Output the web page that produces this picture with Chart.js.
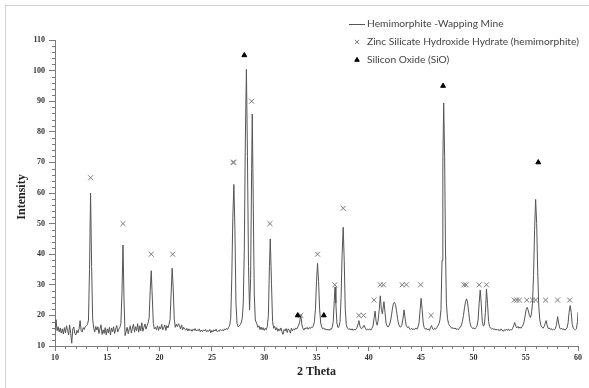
<!DOCTYPE html>
<html>
<head>
<meta charset="utf-8">
<script src="https://cdn.jsdelivr.net/npm/chart.js@4"></script>
<style>
  html, body { margin: 0; padding: 0; background: #fff; }
  #wrap { width: 589px; height: 388px; position: relative; }
</style>
</head>
<body>
<div id="wrap"><canvas id="c" width="589" height="388"></canvas></div>
<script>
// ---- Data ----
const seriesLabels = [
  'Hemimorphite -Wapping Mine',
  'Zinc Silicate Hydroxide Hydrate (hemimorphite)',
  'Silicon Oxide (SiO)'
];
const xAxisTitle = '2 Theta';
const yAxisTitle = 'Intensity';
const xTickValues = [10, 15, 20, 25, 30, 35, 40, 45, 50, 55, 60];
const yTickValues = [10, 20, 30, 40, 50, 60, 70, 80, 90, 100, 110];

const thetaValues = [
  10.0,10.1,10.2,10.3,10.4,10.5,10.6,10.7,10.8,10.9,
  11.0,11.1,11.2,11.3,11.4,11.5,11.6,11.7,11.8,11.9,
  12.0,12.1,12.2,12.3,12.4,12.5,12.6,12.7,12.8,12.9,
  13.0,13.1,13.2,13.3,13.4,13.5,13.6,13.7,13.8,13.9,
  14.0,14.1,14.2,14.3,14.4,14.5,14.6,14.7,14.8,14.9,
  15.0,15.1,15.2,15.3,15.4,15.5,15.6,15.7,15.8,15.9,
  16.0,16.1,16.2,16.3,16.4,16.5,16.6,16.7,16.8,16.9,
  17.0,17.1,17.2,17.3,17.4,17.5,17.6,17.7,17.8,17.9,
  18.0,18.1,18.2,18.3,18.4,18.5,18.6,18.7,18.8,18.9,
  19.0,19.1,19.2,19.3,19.4,19.5,19.6,19.7,19.8,19.9,
  20.0,20.1,20.2,20.3,20.4,20.5,20.6,20.7,20.8,20.9,
  21.0,21.1,21.2,21.3,21.4,21.5,21.6,21.7,21.8,21.9,
  22.0,22.1,22.2,22.3,22.4,22.5,22.6,22.7,22.8,22.9,
  23.0,23.1,23.2,23.3,23.4,23.5,23.6,23.7,23.8,23.9,
  24.0,24.1,24.2,24.3,24.4,24.5,24.6,24.7,24.8,24.9,
  25.0,25.1,25.2,25.3,25.4,25.5,25.6,25.7,25.8,25.9,
  26.0,26.1,26.2,26.3,26.4,26.5,26.6,26.7,26.8,26.9,
  27.0,27.1,27.2,27.3,27.4,27.5,27.6,27.7,27.8,27.9,
  28.0,28.1,28.2,28.3,28.4,28.5,28.6,28.7,28.8,28.86,
  28.95,29.05,29.15,29.3,29.4,29.5,29.6,29.7,29.8,29.9,
  30.0,30.1,30.2,30.3,30.4,30.5,30.58,30.7,30.8,30.9,
  31.0,31.1,31.2,31.3,31.4,31.5,31.6,31.7,31.8,31.9,
  32.0,32.1,32.2,32.3,32.4,32.5,32.6,32.7,32.8,32.9,
  33.0,33.1,33.2,33.3,33.4,33.5,33.6,33.7,33.8,33.9,
  34.0,34.1,34.2,34.3,34.4,34.5,34.6,34.7,34.8,34.9,
  35.0,35.1,35.2,35.3,35.4,35.5,35.6,35.7,35.8,35.9,
  36.0,36.1,36.2,36.3,36.4,36.5,36.6,36.7,36.77,36.85,
  36.95,37.05,37.15,37.25,37.35,37.45,37.55,37.65,37.75,37.85,
  37.95,38.1,38.2,38.3,38.4,38.5,38.6,38.7,38.8,38.9,
  39.0,39.05,39.15,39.3,39.4,39.55,39.7,39.8,39.9,40.0,
  40.1,40.2,40.3,40.4,40.5,40.6,40.7,40.8,40.9,41.0,
  41.1,41.2,41.3,41.45,41.55,41.65,41.75,41.85,41.95,42.05,
  42.15,42.25,42.35,42.45,42.55,42.65,42.75,42.85,42.95,43.05,
  43.15,43.25,43.37,43.47,43.57,43.7,43.8,43.9,44.0,44.1,
  44.2,44.3,44.4,44.5,44.6,44.7,44.8,44.9,45.0,45.1,
  45.2,45.3,45.4,45.5,45.6,45.7,45.8,45.9,46.0,46.1,
  46.2,46.3,46.4,46.5,46.6,46.7,46.8,46.9,47.0,47.08,
  47.16,47.25,47.33,47.42,47.52,47.62,47.72,47.85,47.95,48.05,
  48.15,48.25,48.35,48.45,48.55,48.65,48.75,48.85,48.95,49.05,
  49.15,49.25,49.35,49.45,49.55,49.65,49.75,49.85,49.95,50.05,
  50.15,50.25,50.35,50.45,50.55,50.65,50.75,50.85,50.95,51.05,
  51.15,51.25,51.35,51.45,51.55,51.65,51.75,51.85,51.95,52.05,
  52.15,52.25,52.35,52.45,52.55,52.65,52.75,52.85,52.95,53.05,
  53.15,53.25,53.35,53.45,53.55,53.65,53.75,53.85,53.95,54.05,
  54.15,54.25,54.35,54.45,54.55,54.65,54.75,54.85,54.95,55.05,
  55.15,55.25,55.35,55.45,55.55,55.65,55.75,55.85,55.95,56.05,
  56.15,56.25,56.35,56.45,56.55,56.65,56.75,56.85,56.95,57.05,
  57.15,57.25,57.35,57.45,57.55,57.65,57.75,57.85,57.95,58.05,
  58.15,58.25,58.35,58.45,58.55,58.65,58.75,58.85,58.95,59.05,
  59.15,59.25,59.35,59.45,59.55,59.65,59.75,59.85,59.95,60.0
];
const intensityValues = [
  15.2,18.6,15.0,16.3,14.6,15.9,14.2,15.6,13.9,16.0,
  14.3,16.6,15.1,13.6,16.9,14.1,10.9,15.6,16.2,14.0,
  13.6,15.1,14.3,15.6,18.3,15.0,14.6,16.0,15.4,16.4,
  16.6,17.0,18.5,35,60,36,19,15.8,14.6,16.4,
  15.2,16.3,14.1,15.6,16.9,13.8,15.3,14.1,16.0,13.6,
  15.6,14.3,16.1,13.6,15.9,14.6,16.3,14.1,15.5,16.7,
  14.6,15.5,16.1,17.4,27,43,25,13.4,14.8,16.1,
  14.0,15.6,16.6,14.2,15.9,17.1,14.5,16.3,15.0,17.3,
  14.5,16.6,15.0,17.6,14.8,16.1,17.2,15.5,16.6,17.6,
  19.2,28,34.6,26,17.4,15.6,16.1,15.3,16.6,15.1,
  16.3,15.6,17.1,15.3,16.1,16.9,15.1,16.6,15.9,17.1,
  18.6,27,35.4,29,18.8,16.1,17.1,16.3,17.3,16.6,
  15.6,16.9,15.3,16.1,15.5,15.2,15.8,14.9,15.6,15.0,
  15.4,14.8,15.5,15.1,15.7,14.9,15.3,15.0,15.6,14.6,
  15.2,14.7,15.3,14.9,15.4,14.6,15.1,14.8,15.4,14.3,
  15.1,14.6,15.3,14.9,15.5,14.7,15.0,14.8,15.4,15.0,
  15.3,14.9,15.6,15.2,15.8,15.4,16.1,16.8,19,32,
  52,62.8,48,24,17.5,16.3,16.5,16.9,17.6,19,
  24,42,78,100.4,72,36,21.8,32,68,85.8,
  58,27,18.5,17.2,16.1,16.6,15.4,16.2,15.3,16.0,
  15.1,15.8,15.3,16.4,20,36,45,30,18,15.8,
  16.5,15.2,16.0,14.8,15.6,15.0,15.9,14.6,13.8,15.4,
  14.9,15.7,14.4,15.6,15.1,14.2,15.8,15.0,15.6,15.2,
  15.9,15.5,16.2,16.8,18,20.2,17,15.8,15.2,15.9,
  15.6,16.1,15.5,16.0,15.7,16.2,16.0,16.6,18,22,
  31,37,31,22,17.5,16.2,15.6,15.9,15.3,15.6,
  15.2,15.5,15.1,15.6,15.4,16.0,18,25,29.3,24,
  17.5,16,16.3,18,26,40,48.8,38,22,17,
  15.8,15.4,15.7,15.2,15.6,15.1,15.5,15.2,15.6,16.2,
  17.5,18.3,16.5,15.6,15.9,16.8,15.6,15.2,15.5,15.3,
  15.6,15.2,15.8,16.5,19,21.4,18,16.8,18.5,22,
  26.4,22,20.5,24.5,21,17.5,16.5,16.2,16.8,17.8,
  19.5,22,23.8,24.3,23.5,21.5,19,17.2,16.3,16.2,
  16.8,18.5,21.8,19,16.8,16.0,16.3,15.6,15.4,15.8,
  15.3,15.6,15.4,15.9,15.5,16.2,17.5,21.5,25.6,22,
  17.5,16.0,15.5,15.8,15.2,15.6,15.1,16.0,16.7,15.6,
  15.3,15.8,15.5,16.0,16.6,17.2,18.5,22,38,70,
  89.4,72,42,24,19,17.4,16.6,16.2,15.7,16.0,
  15.6,15.9,15.4,15.7,15.3,15.8,16.2,16.8,18,20,
  22.5,24.5,25.4,24,21,18,16.6,16.0,15.7,15.9,
  15.6,16.0,16.6,18.5,24,28.3,24,18,16.5,17,
  21,28.5,24,18,16.3,15.8,15.5,15.8,15.3,15.6,
  15.2,15.5,15.1,15.4,15.0,15.6,15.2,14.8,15.3,15.0,
  15.5,15.1,15.6,15.0,15.4,15.2,15.8,16.6,17.7,16.5,
  15.9,16.4,15.8,16.2,15.8,16.3,16.9,18,20,22,
  22.6,21.5,20,19.3,20.5,24,33,48,57.9,50,
  34,23,18.5,16.8,16.2,15.8,16.3,17.2,18.3,16.8,
  15.7,15.9,15.4,15.7,15.2,15.5,15.3,15.8,17,19.6,
  17.5,15.9,15.5,15.8,15.3,15.6,15.2,15.5,15.9,17.5,
  21,23.2,21,17,15.8,15.5,15.3,15.6,18,21
];

// Reference peak markers (Zinc Silicate Hydroxide Hydrate)
const zincTheta = [13.4,16.5,19.2,21.25,27.02,27.1,28.8,30.55,33.5,35.1,36.75,37.55,39.05,39.5,40.5,41.1,41.4,43.2,43.6,44.95,45.95,49.1,49.3,50.55,51.25,53.9,54.15,54.4,55.1,55.65,55.95,56.9,58.05,59.2];
const zincIntensity = [65,50,40,40,70,70,90,50,20,40,30,55,20,20,25,30,30,30,30,30,20,30,30,30,30,25,25,25,25,25,25,25,25,25];
// Reference peak markers (Silicon Oxide)
const sioTheta = [28.1,33.2,35.7,47.1,56.2];
const sioIntensity = [105,20,20,95,70];

// ---- Build datasets ----
const spectrumData = thetaValues.map((t, i) => ({x: t, y: intensityValues[i]}));
const zincData = zincTheta.map((t, i) => ({x: t, y: zincIntensity[i]}));
const sioData = sioTheta.map((t, i) => ({x: t, y: sioIntensity[i]}));

const LINE_COLOR = '#555555';
const CROSS_COLOR = '#7a7a7a';
const AXIS_COLOR = '#7a7a7a';
const TICK_FONT = {family: '"Liberation Serif", "Times New Roman", serif', size: 8, weight: 'bold'};

const decorPlugin = {
  id: 'decor',
  beforeDraw(chart) {
    const ctx = chart.ctx;
    ctx.save();
    ctx.fillStyle = '#ffffff';
    ctx.fillRect(0, 0, chart.width, chart.height);
    ctx.strokeStyle = '#d2d2d2';
    ctx.lineWidth = 1;
    ctx.strokeRect(5.5, 5.5, 700, 700);
    ctx.restore();
  },
  afterDraw(chart) {
    const ctx = chart.ctx;
    const xs = chart.scales.x, ys = chart.scales.y;
    const area = chart.chartArea;
    ctx.save();
    // minor ticks
    ctx.strokeStyle = AXIS_COLOR;
    ctx.lineWidth = 1;
    ctx.beginPath();
    for (let v = xs.min + 1; v < xs.max; v += 1) {
      if (v % 5 === 0) continue;
      const px = Math.round(xs.getPixelForValue(v)) + 0.5;
      ctx.moveTo(px, area.bottom); ctx.lineTo(px, area.bottom + 3);
    }
    for (let v = ys.min + 2; v < ys.max; v += 2) {
      if (v % 10 === 0) continue;
      const py = Math.round(ys.getPixelForValue(v)) + 0.5;
      ctx.moveTo(area.left - 3, py); ctx.lineTo(area.left, py);
    }
    ctx.stroke();

    // axis titles
    ctx.fillStyle = '#222';
    ctx.font = 'bold 12px "Liberation Serif", "Times New Roman", serif';
    ctx.textAlign = 'center';
    ctx.textBaseline = 'middle';
    ctx.fillText(xAxisTitle, (area.left + area.right) / 2, 372);
    ctx.save();
    ctx.translate(22, (area.top + area.bottom) / 2 + 4);
    ctx.rotate(-Math.PI / 2);
    ctx.fillText(yAxisTitle, 0, 0);
    ctx.restore();

    // legend
    const legendFontFamily = 'Lato, "Open Sans", sans-serif';
    ctx.font = '11px ' + legendFontFamily;
    const w = ctx.measureText(seriesLabels[1]).width;
    const size = Math.max(8, Math.min(14, 11 * 212 / w));
    ctx.font = size.toFixed(2) + 'px ' + legendFontFamily;
    ctx.textAlign = 'left';
    ctx.textBaseline = 'middle';
    ctx.fillStyle = '#444';
    const lx = 367, rows = [24, 42, 60];
    // row 1: line sample
    ctx.strokeStyle = LINE_COLOR;
    ctx.beginPath();
    ctx.moveTo(349, rows[0] + 0.5); ctx.lineTo(365, rows[0] + 0.5);
    ctx.stroke();
    ctx.fillText(seriesLabels[0], lx, rows[0]);
    // row 2: cross marker
    ctx.strokeStyle = CROSS_COLOR;
    Chart.helpers.drawPoint(ctx, {pointStyle: 'crossRot', radius: 3, borderWidth: 1}, 357, rows[1]);
    ctx.fillText(seriesLabels[1], lx, rows[1]);
    // row 3: triangle marker
    ctx.fillStyle = '#000';
    ctx.strokeStyle = '#000';
    Chart.helpers.drawPoint(ctx, {pointStyle: 'triangle', radius: 2.6, borderWidth: 1}, 357, rows[2]);
    ctx.fillStyle = '#444';
    ctx.fillText(seriesLabels[2], lx, rows[2]);
    ctx.restore();
  }
};

new Chart(document.getElementById('c'), {
  type: 'scatter',
  data: {
    datasets: [
      {
        label: seriesLabels[0],
        data: spectrumData,
        showLine: true,
        borderColor: LINE_COLOR,
        borderWidth: 1,
        pointRadius: 0,
        tension: 0,
        order: 3
      },
      {
        label: seriesLabels[1],
        data: zincData,
        showLine: false,
        pointStyle: 'crossRot',
        pointRadius: 3.5,
        borderColor: CROSS_COLOR,
        backgroundColor: CROSS_COLOR,
        borderWidth: 1,
        order: 2
      },
      {
        label: seriesLabels[2],
        data: sioData,
        showLine: false,
        pointStyle: 'triangle',
        pointRadius: 2.8,
        borderColor: '#000',
        backgroundColor: '#000',
        borderWidth: 1,
        order: 1
      }
    ]
  },
  options: {
    responsive: false,
    animation: false,
    events: [],
    layout: {padding: {left: 10, right: 11, top: 40, bottom: 12}},
    plugins: {legend: {display: false}, tooltip: {enabled: false}, title: {display: false}},
    scales: {
      x: {
        type: 'linear', min: 10, max: 60,
        afterBuildTicks: s => { s.ticks = xTickValues.map(v => ({value: v})); },
        afterFit: s => { s.height = 30; },
        grid: {drawOnChartArea: false, drawTicks: true, tickLength: 5, color: AXIS_COLOR},
        border: {display: true, color: AXIS_COLOR, width: 1},
        ticks: {font: TICK_FONT, color: '#333', padding: 2, maxRotation: 0, autoSkip: false}
      },
      y: {
        type: 'linear', min: 10, max: 110,
        afterBuildTicks: s => { s.ticks = yTickValues.map(v => ({value: v})); },
        afterFit: s => { s.width = 45; },
        grid: {drawOnChartArea: false, drawTicks: true, tickLength: 6, color: AXIS_COLOR},
        border: {display: true, color: AXIS_COLOR, width: 1},
        ticks: {font: TICK_FONT, color: '#333', padding: 4, autoSkip: false}
      }
    }
  },
  plugins: [decorPlugin]
});
</script>
</body>
</html>
